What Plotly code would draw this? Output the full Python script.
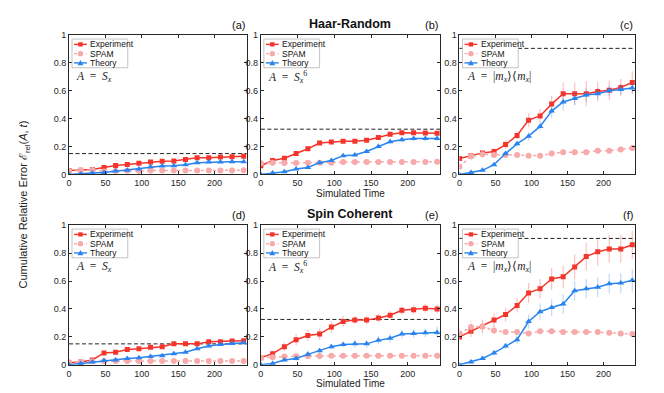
import plotly.graph_objects as go

# simulated time steps (same for every panel)
t = [0, 16, 32, 48, 64, 80, 96, 112, 128, 144, 160, 176, 192, 208, 224, 240]

panel_labels = ["(a)", "(b)", "(c)", "(d)", "(e)", "(f)"]
row_titles = ["Haar-Random", "Spin Coherent"]
series_names = ["Experiment", "SPAM", "Theory"]
observables = [
    "<i>A</i>  =  <i>S<sub>x</sub></i>",
    "<i>A</i>  =  <i>S<sub>x</sub></i><sup>6</sup>",
    "<i>A</i>  =  |<i>m<sub>x</sub></i>⟩⟨<i>m<sub>x</sub></i>|",
]
thresholds = [0.15, 0.325, 0.905, 0.15, 0.325, 0.905]

# Experiment
exp_a = [0.028, 0.03, 0.035, 0.05, 0.065, 0.072, 0.08, 0.09, 0.095, 0.097, 0.107, 0.12, 0.12, 0.125, 0.128, 0.13]
exp_b = [0.063, 0.10, 0.117, 0.15, 0.185, 0.226, 0.233, 0.238, 0.238, 0.245, 0.265, 0.289, 0.30, 0.30, 0.298, 0.296]
exp_c = [0.115, 0.135, 0.155, 0.165, 0.215, 0.28, 0.39, 0.42, 0.505, 0.58, 0.58, 0.58, 0.595, 0.605, 0.625, 0.66]
exp_d = [0.015, 0.02, 0.035, 0.085, 0.09, 0.11, 0.115, 0.125, 0.13, 0.15, 0.15, 0.15, 0.165, 0.165, 0.17, 0.172]
exp_e = [0.05, 0.08, 0.13, 0.18, 0.21, 0.22, 0.27, 0.31, 0.32, 0.32, 0.335, 0.355, 0.39, 0.395, 0.405, 0.40]
exp_f = [0.2, 0.24, 0.275, 0.32, 0.36, 0.425, 0.515, 0.545, 0.615, 0.63, 0.7, 0.775, 0.81, 0.83, 0.83, 0.86]

exp_err_a = [0.005, 0.005, 0.006, 0.006, 0.007, 0.007, 0.008, 0.008, 0.008, 0.008, 0.009, 0.009, 0.009, 0.01, 0.01, 0.01]
exp_err_b = [0.01, 0.01, 0.01, 0.012, 0.012, 0.012, 0.012, 0.012, 0.012, 0.012, 0.012, 0.012, 0.012, 0.012, 0.012, 0.012]
exp_err_c = [0.01, 0.02, 0.02, 0.02, 0.03, 0.03, 0.05, 0.05, 0.06, 0.08, 0.08, 0.09, 0.07, 0.07, 0.06, 0.08]
exp_err_d = [0.005, 0.005, 0.006, 0.008, 0.008, 0.008, 0.008, 0.009, 0.009, 0.009, 0.01, 0.01, 0.01, 0.01, 0.01, 0.01]
exp_err_e = [0.01, 0.02, 0.03, 0.04, 0.04, 0.04, 0.04, 0.04, 0.03, 0.03, 0.03, 0.03, 0.03, 0.03, 0.03, 0.03]
exp_err_f = [0.03, 0.04, 0.05, 0.05, 0.05, 0.05, 0.07, 0.07, 0.08, 0.08, 0.09, 0.1, 0.1, 0.1, 0.1, 0.1]

# SPAM
spam_a = [0.025, 0.03, 0.032, 0.022, 0.025, 0.026, 0.027, 0.028, 0.028, 0.028, 0.028, 0.029, 0.029, 0.029, 0.029, 0.03]
spam_b = [0.08, 0.085, 0.083, 0.083, 0.085, 0.085, 0.085, 0.09, 0.09, 0.09, 0.09, 0.09, 0.09, 0.09, 0.09, 0.092]
spam_c = [0.055, 0.13, 0.145, 0.14, 0.14, 0.14, 0.135, 0.135, 0.15, 0.16, 0.16, 0.16, 0.17, 0.17, 0.18, 0.19]
spam_d = [0.018, 0.022, 0.025, 0.025, 0.027, 0.027, 0.028, 0.028, 0.028, 0.028, 0.028, 0.028, 0.028, 0.028, 0.028, 0.028]
spam_e = [0.05, 0.055, 0.06, 0.062, 0.063, 0.064, 0.065, 0.065, 0.065, 0.065, 0.065, 0.065, 0.065, 0.065, 0.065, 0.065]
spam_f = [0.225, 0.27, 0.275, 0.245, 0.235, 0.235, 0.225, 0.24, 0.24, 0.235, 0.235, 0.235, 0.235, 0.23, 0.225, 0.22]

spam_err_a = [0.004] * 16
spam_err_b = [0.006] * 16
spam_err_c = [0.02, 0.03, 0.03, 0.02, 0.02, 0.02, 0.02, 0.02, 0.02, 0.02, 0.02, 0.02, 0.02, 0.02, 0.02, 0.02]
spam_err_d = [0.004] * 16
spam_err_e = [0.006] * 16
spam_err_f = [0.04, 0.05, 0.04, 0.03, 0.02, 0.02, 0.02, 0.02, 0.02, 0.02, 0.02, 0.02, 0.02, 0.02, 0.02, 0.02]

# Theory
th_a = [0.0, 0.003, 0.01, 0.015, 0.025, 0.03, 0.04, 0.055, 0.06, 0.063, 0.07, 0.085, 0.09, 0.09, 0.092, 0.092]
th_b = [0.0, 0.01, 0.02, 0.04, 0.05, 0.085, 0.10, 0.135, 0.14, 0.165, 0.2, 0.235, 0.25, 0.258, 0.258, 0.258]
th_c = [0.0, 0.015, 0.03, 0.07, 0.15, 0.22, 0.275, 0.345, 0.455, 0.52, 0.545, 0.57, 0.58, 0.6, 0.61, 0.62]
th_d = [0.0, 0.01, 0.02, 0.03, 0.035, 0.045, 0.05, 0.06, 0.065, 0.08, 0.09, 0.115, 0.135, 0.145, 0.152, 0.158]
th_e = [0.0, 0.01, 0.035, 0.045, 0.075, 0.1, 0.13, 0.145, 0.15, 0.15, 0.175, 0.19, 0.22, 0.225, 0.23, 0.232]
th_f = [0.0, 0.02, 0.045, 0.085, 0.135, 0.18, 0.31, 0.38, 0.41, 0.435, 0.53, 0.545, 0.555, 0.58, 0.585, 0.605]

th_err_a = [0.0, 0.003, 0.004, 0.005, 0.005, 0.006, 0.006, 0.007, 0.007, 0.007, 0.008, 0.008, 0.008, 0.008, 0.008, 0.008]
th_err_b = [0.0, 0.004, 0.005, 0.006, 0.007, 0.008, 0.009, 0.01, 0.012, 0.014, 0.016, 0.018, 0.02, 0.02, 0.02, 0.02]
th_err_c = [0.0, 0.01, 0.01, 0.01, 0.02, 0.02, 0.03, 0.03, 0.05, 0.06, 0.05, 0.05, 0.04, 0.04, 0.04, 0.04]
th_err_d = [0.0, 0.003, 0.004, 0.005, 0.005, 0.006, 0.006, 0.007, 0.007, 0.007, 0.008, 0.008, 0.008, 0.008, 0.008, 0.008]
th_err_e = [0.0, 0.01, 0.01, 0.02, 0.02, 0.02, 0.02, 0.02, 0.03, 0.03, 0.03, 0.03, 0.03, 0.03, 0.03, 0.04]
th_err_f = [0.0, 0.01, 0.01, 0.02, 0.02, 0.03, 0.05, 0.06, 0.06, 0.07, 0.07, 0.07, 0.07, 0.07, 0.07, 0.08]

experiment = [exp_a, exp_b, exp_c, exp_d, exp_e, exp_f]
experiment_err = [exp_err_a, exp_err_b, exp_err_c, exp_err_d, exp_err_e, exp_err_f]
spam = [spam_a, spam_b, spam_c, spam_d, spam_e, spam_f]
spam_err = [spam_err_a, spam_err_b, spam_err_c, spam_err_d, spam_err_e, spam_err_f]
theory = [th_a, th_b, th_c, th_d, th_e, th_f]
theory_err = [th_err_a, th_err_b, th_err_c, th_err_d, th_err_e, th_err_f]

W, H = 664, 393
# panel boxes in pixels (left, right) and (top, bottom)
cols_px = [(58.3, 236.7), (251, 431), (450.5, 627)]
rows_px = [(22.7, 165.7), (217.7, 361)]

RED = "#f5352b"
PINK = "#f8a9a9"
BLUE = "#2a84f0"
AXC = "#262626"
FONT = "Liberation Sans, Arial, sans-serif"

styles = [
    dict(color=RED, dash="solid", symbol="square", err="rgba(245,53,43,0.3)"),
    dict(color=PINK, dash="dot", symbol="circle", err="rgba(248,169,169,0.35)"),
    dict(color=BLUE, dash="solid", symbol="triangle-up", err="rgba(42,132,240,0.3)"),
]


def px(x, y):
    return x / W, 1 - y / H


def draw_legend(fig, x0, y0):
    # small boxed legend in the panel's top-left corner (pixel layout)
    bx0, by0 = px(x0 + 3, y0 + 4)
    bx1, by1 = px(x0 + 59, y0 + 33.5)
    fig.add_shape(type="rect", xref="paper", yref="paper", x0=bx0, y0=by0, x1=bx1, y1=by1,
                  fillcolor="white", line=dict(color="#b5b5b5", width=0.8), layer="above")
    for k, (name, st) in enumerate(zip(series_names, styles)):
        cy = y0 + 9.5 + 9.5 * k
        lx0, ly = px(x0 + 5, cy)
        lx1, _ = px(x0 + 18, cy)
        fig.add_shape(type="line", xref="paper", yref="paper", x0=lx0, x1=lx1, y0=ly, y1=ly,
                      line=dict(color=st["color"], width=1.4, dash=st["dash"]), layer="above")
        cx = x0 + 11.5
        if st["symbol"] == "square":
            a, b = px(cx - 2.2, cy - 2.2)
            c, d = px(cx + 2.2, cy + 2.2)
            fig.add_shape(type="rect", xref="paper", yref="paper", x0=a, y0=b, x1=c, y1=d,
                          fillcolor=st["color"], line=dict(width=0), layer="above")
        elif st["symbol"] == "circle":
            a, b = px(cx - 2.7, cy - 2.7)
            c, d = px(cx + 2.7, cy + 2.7)
            fig.add_shape(type="circle", xref="paper", yref="paper", x0=a, y0=b, x1=c, y1=d,
                          fillcolor=st["color"], line=dict(width=0), layer="above")
        else:
            p1 = px(cx, cy - 3)
            p2 = px(cx - 3, cy + 2.4)
            p3 = px(cx + 3, cy + 2.4)
            path = "M {0},{1} L {2},{3} L {4},{5} Z".format(*p1, *p2, *p3)
            fig.add_shape(type="path", xref="paper", yref="paper", path=path,
                          fillcolor=st["color"], line=dict(width=0), layer="above")
        tx, ty = px(x0 + 19.5, cy)
        fig.add_annotation(xref="paper", yref="paper", x=tx, y=ty, xanchor="left", yanchor="middle",
                           showarrow=False, text=name, font=dict(family=FONT, size=8.5, color="#111111"))


fig = go.Figure()

for i in range(6):
    r, c = divmod(i, 3)
    n = "" if i == 0 else str(i + 1)
    xa, ya = "x" + n, "y" + n
    series = [(experiment[i], experiment_err[i]), (spam[i], spam_err[i]), (theory[i], theory_err[i])]
    for (vals, errs), name, st in zip(series, series_names, styles):
        fig.add_trace(go.Scatter(
            x=t, y=vals, name=name, xaxis=xa, yaxis=ya, mode="lines+markers", showlegend=False,
            line=dict(color=st["color"], width=1.5, dash=st["dash"]),
            marker=dict(symbol=st["symbol"], size=6 if st["symbol"] != "square" else 5, color=st["color"]),
            error_y=dict(type="data", array=errs, color=st["err"], thickness=1.2, width=0),
        ))

    x0, x1 = cols_px[c]
    y0, y1 = rows_px[r]
    axis_style = dict(showline=True, linecolor=AXC, linewidth=1, mirror="ticks",
                      ticks="inside", ticklen=3, tickcolor=AXC, showgrid=False, zeroline=False,
                      tickfont=dict(family=FONT, size=9, color=AXC))
    fig.update_layout({
        ("xaxis" + n): dict(domain=[x0 / W, x1 / W], range=[0, 244], tickvals=[0, 50, 100, 150, 200],
                            anchor=ya, **axis_style),
        ("yaxis" + n): dict(domain=[1 - y1 / H, 1 - y0 / H], range=[0, 1], tickvals=[0, 0.2, 0.4, 0.6, 0.8, 1],
                            anchor=xa, **axis_style),
    })

    # dashed threshold line
    fig.add_shape(type="line", xref=xa + " domain", yref=ya, x0=0, x1=1,
                  y0=thresholds[i], y1=thresholds[i],
                  line=dict(color="#222222", width=1, dash="4px,2.5px"), layer="below")

    draw_legend(fig, x0, y0)

    # observable label
    fig.add_annotation(xref=xa + " domain", yref=ya + " domain", x=0.03, y=0.70,
                       xanchor="left", yanchor="middle", showarrow=False,
                       text=observables[c], font=dict(family="Liberation Serif, serif", size=11.5, color="#222222"))
    # panel letter
    fig.add_annotation(xref="paper", yref="paper", x=x1 / W, y=1 - (y0 - 10) / H,
                       xanchor="right", yanchor="middle", showarrow=False,
                       text=panel_labels[i], font=dict(family=FONT, size=11, color="#111111"))

# row titles and x-axis titles over the middle column
mid = (cols_px[1][0] + cols_px[1][1]) / 2 / W
for r in range(2):
    y0, y1 = rows_px[r]
    fig.add_annotation(xref="paper", yref="paper", x=mid, y=1 - (y0 - 11) / H,
                       xanchor="center", yanchor="middle", showarrow=False,
                       text="<b>" + row_titles[r] + "</b>", font=dict(family=FONT, size=12.5, color="#111111"))
    fig.add_annotation(xref="paper", yref="paper", x=mid, y=1 - (y1 + 19) / H,
                       xanchor="center", yanchor="middle", showarrow=False,
                       text="Simulated Time", font=dict(family=FONT, size=10, color="#222222"))

fig.add_annotation(xref="paper", yref="paper", x=13 / W, y=0.5, textangle=-90,
                   xanchor="center", yanchor="middle", showarrow=False,
                   text="Cumulative Relative Error ℰ<sub>rel</sub>(<i>A</i>, <i>t</i>)",
                   font=dict(family=FONT, size=11, color="#222222"))

fig.update_layout(width=W, height=H, margin=dict(l=0, r=0, t=0, b=0),
                  paper_bgcolor="white", plot_bgcolor="white", showlegend=False)

fig.write_html("out.html")
